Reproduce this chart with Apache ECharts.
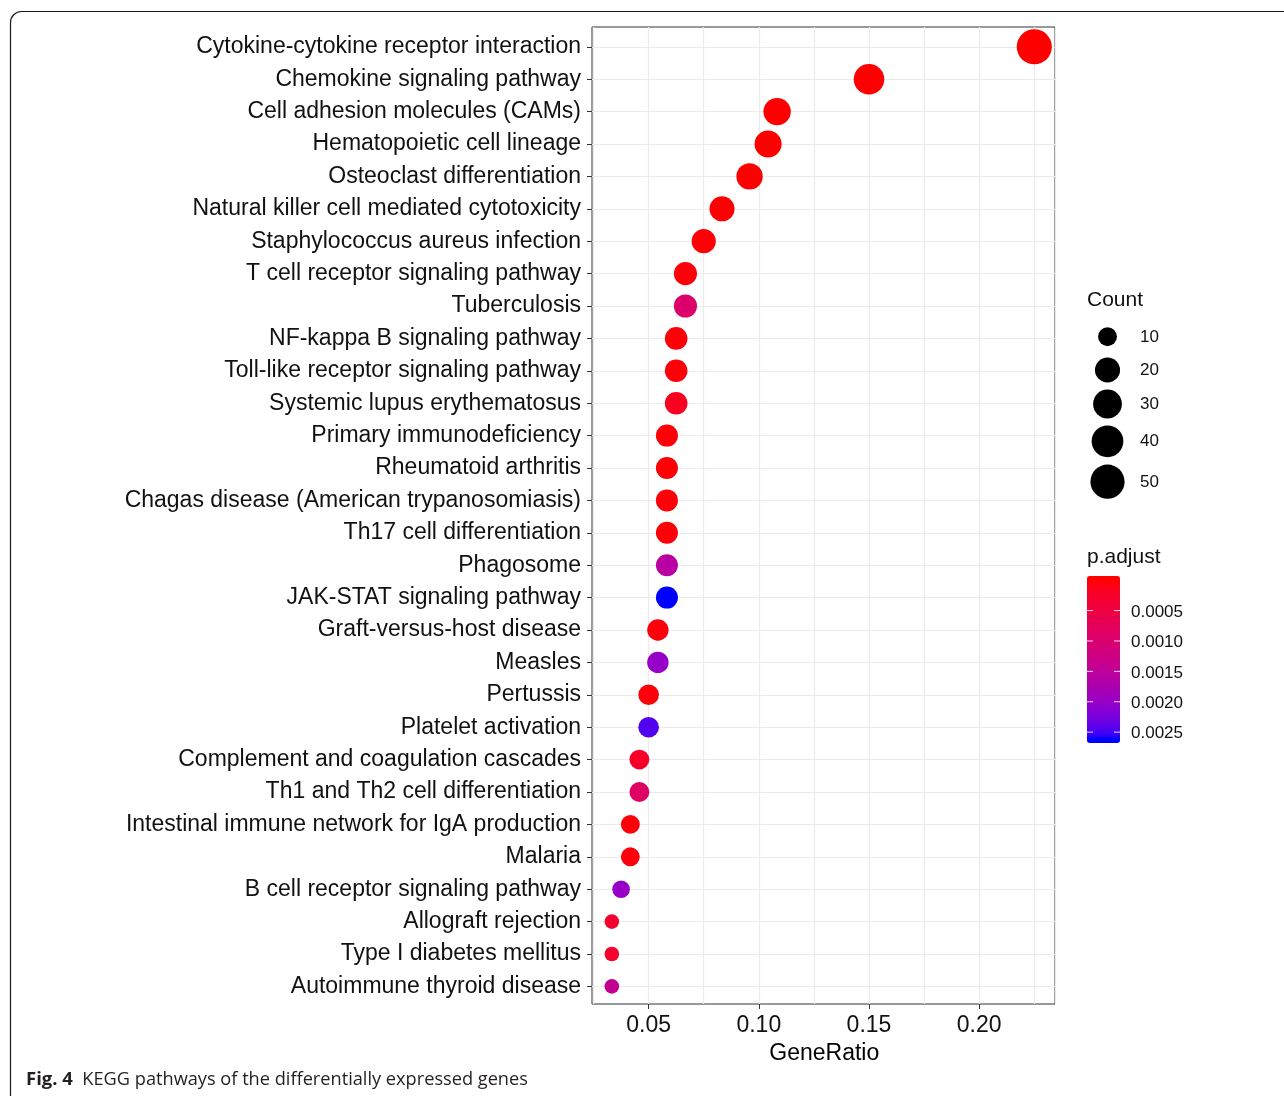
<!DOCTYPE html>
<html><head><meta charset="utf-8">
<script src="https://cdn.jsdelivr.net/npm/echarts@6/dist/echarts.min.js"></script>
<style>html,body{margin:0;padding:0;background:#fff}#c{width:1284px;height:1096px}</style>
</head><body><div id="c"></div>
<script>
// ---------------- data ----------------
const categories = [
  'Cytokine-cytokine receptor interaction',
  'Chemokine signaling pathway',
  'Cell adhesion molecules (CAMs)',
  'Hematopoietic cell lineage',
  'Osteoclast differentiation',
  'Natural killer cell mediated cytotoxicity',
  'Staphylococcus aureus infection',
  'T cell receptor signaling pathway',
  'Tuberculosis',
  'NF-kappa B signaling pathway',
  'Toll-like receptor signaling pathway',
  'Systemic lupus erythematosus',
  'Primary immunodeficiency',
  'Rheumatoid arthritis',
  'Chagas disease (American trypanosomiasis)',
  'Th17 cell differentiation',
  'Phagosome',
  'JAK-STAT signaling pathway',
  'Graft-versus-host disease',
  'Measles',
  'Pertussis',
  'Platelet activation',
  'Complement and coagulation cascades',
  'Th1 and Th2 cell differentiation',
  'Intestinal immune network for IgA production',
  'Malaria',
  'B cell receptor signaling pathway',
  'Allograft rejection',
  'Type I diabetes mellitus',
  'Autoimmune thyroid disease'
];
const geneRatio = [0.225, 0.150, 0.1083, 0.1042, 0.0958, 0.0833, 0.075, 0.0667, 0.0667, 0.0625,
                   0.0625, 0.0625, 0.0583, 0.0583, 0.0583, 0.0583, 0.0583, 0.0583, 0.0542, 0.0542,
                   0.050, 0.050, 0.0458, 0.0458, 0.0417, 0.0417, 0.0375, 0.0333, 0.0333, 0.0333];
const counts = [54, 36, 26, 25, 23, 20, 18, 16, 16, 15,
                15, 15, 14, 14, 14, 14, 14, 14, 13, 13,
                12, 12, 11, 11, 10, 10, 9, 8, 8, 8];
const pAdjust = [0.00000001, 0.0000001, 0.000001, 0.000002, 0.000004, 0.00001, 0.00002, 0.00004, 0.00095, 0.00003,
                 0.00004, 0.00018, 0.00002, 0.00002, 0.00003, 0.00003, 0.00160, 0.00261, 0.00005, 0.00200,
                 0.00005, 0.00245, 0.00024, 0.00088, 0.00004, 0.00005, 0.00200, 0.00028, 0.00028, 0.00140];
const xTicks = [0.05, 0.10, 0.15, 0.20];
const countBreaks = [10, 20, 30, 40, 50];
const pBreaks = [0.0005, 0.0010, 0.0015, 0.0020, 0.0025];

// ---------------- styling helpers ----------------
const FONT = "'Liberation Sans', Arial, sans-serif";
const TXT = '#111';
const cMin = Math.min(...counts), cMax = Math.max(...counts);
function dotSize(c) { const s = 1 + 5 * Math.sqrt((c - cMin) / (cMax - cMin)); return 10.5 + 4.1 * s; }

// Lab interpolation red -> blue (like ggplot's gradient)
function s2l(c){c/=255;return c<=0.04045?c/12.92:Math.pow((c+0.055)/1.055,2.4);}
function l2s(c){c=c<=0.0031308?12.92*c:1.055*Math.pow(c,1/2.4)-0.055;return Math.round(Math.max(0,Math.min(1,c))*255);}
function rgb2lab(rgb){const r=s2l(rgb[0]),g=s2l(rgb[1]),b=s2l(rgb[2]);
  const X=(0.4124*r+0.3576*g+0.1805*b)/0.95047,Y=0.2126*r+0.7152*g+0.0722*b,Z=(0.0193*r+0.1192*g+0.9505*b)/1.08883;
  const f=t=>t>0.008856?Math.cbrt(t):7.787*t+16/116;const fx=f(X),fy=f(Y),fz=f(Z);
  return [116*fy-16,500*(fx-fy),200*(fy-fz)];}
function lab2rgb(lab){const fy=(lab[0]+16)/116,fx=fy+lab[1]/500,fz=fy-lab[2]/200;
  const fi=t=>t>0.206893?t*t*t:(t-16/116)/7.787;const X=fi(fx)*0.95047,Y=fi(fy),Z=fi(fz)*1.08883;
  const r=3.2406*X-1.5372*Y-0.4986*Z,g=-0.9689*X+1.8758*Y+0.0415*Z,b=0.0557*X-0.2040*Y+1.0570*Z;
  return 'rgb('+l2s(r)+','+l2s(g)+','+l2s(b)+')';}
const labA = rgb2lab([255,0,0]), labB = rgb2lab([0,0,255]);

// colour scale limits (data range) and colourbar extent (half bin beyond limits)
const pLo = 0, pHi = Math.max(...pAdjust);
const binHalf = (pHi - pLo) / 19 / 2;
const vmMin = pLo - binHalf, vmMax = pHi + binHalf;
const stops = [];
for (let i = 0; i <= 40; i++) {
  const v = vmMin + (vmMax - vmMin) * i / 40;
  const t = Math.max(0, Math.min(1, (v - pLo) / (pHi - pLo)));
  stops.push(lab2rgb([0,1,2].map(k => labA[k] + (labB[k] - labA[k]) * t)));
}

// layout
const L = 592, R = 1055, T = 27, B = 1004;
const xMin = 0.0243, xMax = 0.2344;
const gridStep = 0.025;
const gLeft = L + (gridStep - xMin) / (xMax - xMin) * (R - L);
const firstY = 46.8, lastY = 986.4;
const barTop = 576, barH = 167, barLeft = 1087, barW = 33;
const countLegendY = [336.7, 370, 404, 441.3, 481.7];

const graphics = [];
// outer frame
graphics.push({ type: 'rect', silent: true, shape: { x: 10.5, y: 11.5, width: 1400, height: 1200, r: 11 },
  style: { fill: 'none', stroke: '#1a1a1a', lineWidth: 1.2 } });
// Count legend
graphics.push({ type: 'text', left: 1087, top: 290, style: { text: 'Count', font: '21px ' + FONT, fill: TXT } });
countBreaks.forEach((b, i) => {
  graphics.push({ type: 'circle', shape: { cx: 1107.5, cy: countLegendY[i], r: dotSize(b) / 2 }, style: { fill: '#000' } });
  graphics.push({ type: 'text', x: 1140, y: countLegendY[i] + 0.5, style: { text: String(b), font: '17px ' + FONT, fill: TXT, verticalAlign: 'middle' } });
});
// p.adjust legend
graphics.push({ type: 'text', left: 1087, top: 547, style: { text: 'p.adjust', font: '21px ' + FONT, fill: TXT } });
pBreaks.forEach(p => {
  const y = barTop + (p - vmMin) / (vmMax - vmMin) * barH;
  graphics.push({ type: 'line', z: 100, shape: { x1: barLeft, y1: y, x2: barLeft + 6, y2: y }, style: { stroke: 'rgba(255,255,255,0.85)', lineWidth: 1 } });
  graphics.push({ type: 'line', z: 100, shape: { x1: barLeft + barW - 6, y1: y, x2: barLeft + barW, y2: y }, style: { stroke: 'rgba(255,255,255,0.85)', lineWidth: 1 } });
  graphics.push({ type: 'text', x: 1131, y: y + 1.5, style: { text: p.toFixed(4), font: '17px ' + FONT, fill: TXT, verticalAlign: 'middle' } });
});
// caption
graphics.push({ type: 'text', x: 26, y: 1080, style: {
  text: '{b|Fig. 4}  KEGG pathways of the differentially expressed genes',
  font: "18.2px 'Open Sans', sans-serif", fill: '#231f20', verticalAlign: 'middle',
  rich: { b: { font: "bold 18.5px 'Open Sans', sans-serif", fill: '#231f20' } } } });

const option = {
  animation: false,
  backgroundColor: '#fff',
  grid: [
    { left: L, top: T, width: R - L, height: B - T, show: true, borderColor: '#333', borderWidth: 1, backgroundColor: 'transparent' },
    { left: L, top: firstY, width: R - L, height: lastY - firstY },
    { left: gLeft, top: T, width: R - gLeft, height: B - T }
  ],
  xAxis: [
    { gridIndex: 0, type: 'value', min: xMin, max: xMax, show: false },
    { gridIndex: 1, type: 'value', min: xMin, max: xMax, show: false },
    { gridIndex: 2, type: 'value', min: gridStep, max: xMax, interval: gridStep,
      axisLine: { show: false }, axisTick: { show: false }, axisLabel: { show: false },
      splitLine: { show: true, lineStyle: { color: '#EBEBEB', width: 1.2 } } },
    { gridIndex: 2, type: 'value', min: gridStep, max: xMax, position: 'bottom',
      axisLine: { show: false },
      axisTick: { show: true, length: 5, customValues: xTicks, lineStyle: { color: '#333' } },
      axisLabel: { customValues: xTicks, formatter: v => v.toFixed(2), fontSize: 23, fontFamily: FONT, color: TXT, margin: 10 },
      splitLine: { show: false },
      name: 'GeneRatio', nameLocation: 'middle', nameGap: 34,
      nameTextStyle: { fontSize: 23, fontFamily: FONT, color: '#000' } }
  ],
  yAxis: [
    { gridIndex: 0, type: 'value', min: 0, max: 1, show: false },
    { gridIndex: 1, type: 'category', data: categories, inverse: true, boundaryGap: false,
      axisLine: { show: false },
      axisTick: { show: true, length: 5, interval: 0, lineStyle: { color: '#333' } },
      axisLabel: { interval: 0, fontSize: 23, fontFamily: FONT, color: TXT, margin: 11 },
      splitLine: { show: true, interval: 0, lineStyle: { color: '#EBEBEB', width: 1.2 } } },
    { gridIndex: 2, type: 'value', min: 0, max: 1, show: false }
  ],
  visualMap: {
    type: 'continuous', min: vmMin, max: vmMax, dimension: 3, seriesIndex: 0,
    inRange: { color: stops }, orient: 'vertical', inverse: true,
    left: barLeft, top: barTop, itemWidth: barW, itemHeight: barH,
    text: null, calculable: false, padding: 0, hoverLink: false, realtime: false
  },
  series: [{
    type: 'scatter', xAxisIndex: 1, yAxisIndex: 1, z: 5,
    data: categories.map((c, i) => [geneRatio[i], c, counts[i], pAdjust[i]]),
    symbolSize: d => dotSize(d[2]),
    itemStyle: { opacity: 1 }
  }],
  graphic: graphics
};
const chart = echarts.init(document.getElementById('c'), null, { renderer: 'canvas' });
chart.setOption(option);
</script></body></html>
